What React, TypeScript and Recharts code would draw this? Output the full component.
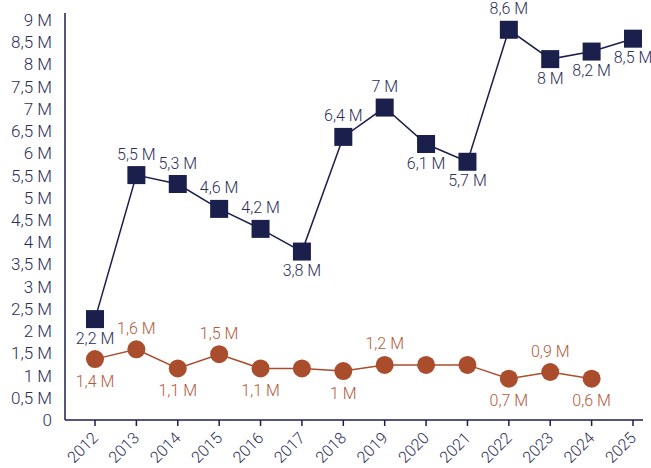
import React from 'react';
import { LineChart, Line, XAxis, YAxis, LabelList } from 'recharts';

const years = ['2012', '2013', '2014', '2015', '2016', '2017', '2018', '2019', '2020', '2021', '2022', '2023', '2024', '2025'];
const navyValues = [2.27, 5.51, 5.31, 4.75, 4.3, 3.79, 6.37, 7.03, 6.21, 5.81, 8.78, 8.12, 8.29, 8.58];
const navyLabels = ['2,2 M', '5,5 M', '5,3 M', '4,6 M', '4,2 M', '3,8 M', '6,4 M', '7 M', '6,1 M', '5,7 M', '8,6 M', '8 M', '8,2 M', '8,5 M'];
const navyPlacement = ['below', 'above', 'above', 'above', 'above', 'below', 'above', 'above', 'below', 'below', 'above', 'below', 'below', 'below'];
const orangeValues: (number | null)[] = [1.37, 1.59, 1.16, 1.48, 1.16, 1.16, 1.1, 1.24, 1.24, 1.24, 0.93, 1.08, 0.93, null];
const orangeLabels = ['1,4 M', '1,6 M', '1,1 M', '1,5 M', '1,1 M', '', '1 M', '1,2 M', '', '', '0,7 M', '0,9 M', '0,6 M', ''];
const orangePlacement = ['below', 'above', 'below', 'above', 'below', '', 'below', 'above', '', '', 'below', 'above', 'below', ''];
const yTicks = [0, 0.5, 1, 1.5, 2, 2.5, 3, 3.5, 4, 4.5, 5, 5.5, 6, 6.5, 7, 7.5, 8, 8.5, 9];

const rows = years.map((year, i) => ({
  year,
  navy: navyValues[i],
  orange: orangeValues[i],
  navyLabel: navyLabels[i],
  orangeLabel: orangeLabels[i],
}));

const NAVY = '#1b1f4c';
const ORANGE = '#a94d2d';
const NAVY_TEXT = '#2a2e58';
const ORANGE_TEXT = '#b45a3a';
const FONT = 'Roboto, sans-serif';
const WEIGHT = 300;

const fmt = (v: number) => (v === 0 ? '0' : `${String(v).replace('.', ',')} M`);

const SquareDot = (props: any) => {
  const { cx, cy } = props;
  if (cx == null || cy == null) return null;
  return <rect x={cx - 9} y={cy - 9} width={18} height={18} fill={NAVY} />;
};

const CircleDot = (props: any) => {
  const { cx, cy, value } = props;
  if (cx == null || cy == null || value == null) return null;
  return <circle cx={cx} cy={cy} r={9} fill={ORANGE} />;
};

const makeLabel = (placement: string[], color: string, above: number, below: number) => (props: any) => {
  const { x, y, value, index } = props;
  if (!value) return null;
  const p = placement[index];
  const dy = p === 'above' ? above : below;
  return (
    <text x={x} y={y + dy} textAnchor="middle" dominantBaseline="central" fill={color} fontSize={16} fontWeight={WEIGHT} fontFamily={FONT}>
      {value}
    </text>
  );
};

const XTick = (props: any) => {
  const { x, y, payload } = props;
  return (
    <g transform={`translate(${x + 4},${y + 11})`}>
      <text x={0} y={0} textAnchor="end" transform="rotate(-45)" fill={NAVY_TEXT} fontSize={16} fontWeight={WEIGHT} fontFamily={FONT}>
        {payload.value}
      </text>
    </g>
  );
};

export default function App() {
  return (
    <div style={{ position: 'fixed', left: 0, top: 0, width: 651, height: 468, background: '#fff' }}>
      <LineChart width={651} height={468} data={rows} margin={{ top: 13, right: 8, left: 0, bottom: 0 }}>
        <XAxis
          dataKey="year"
          height={48}
          padding={{ left: 30, right: 10 }}
          axisLine={{ stroke: NAVY, strokeWidth: 1.5 }}
          tickLine={{ stroke: NAVY, strokeWidth: 1.5 }}
          tickSize={6}
          tick={<XTick />}
          interval={0}
        />
        <YAxis
          width={65}
          domain={[0, 9]}
          ticks={yTicks}
          padding={{ top: 7 }}
          tickFormatter={fmt}
          axisLine={{ stroke: NAVY, strokeWidth: 1.5 }}
          tickLine={false}
          tickMargin={7}
          interval={0}
          tick={{ fill: NAVY_TEXT, fontSize: 17, fontWeight: WEIGHT, fontFamily: FONT }}
        />
        <Line
          dataKey="navy"
          stroke={NAVY}
          strokeWidth={1.5}
          dot={<SquareDot />}
          activeDot={false}
          isAnimationActive={false}
        >
          <LabelList dataKey="navyLabel" content={makeLabel(navyPlacement, NAVY_TEXT, -21, 19)} />
        </Line>
        <Line
          dataKey="orange"
          stroke={ORANGE}
          strokeWidth={1.5}
          dot={<CircleDot />}
          activeDot={false}
          isAnimationActive={false}
        >
          <LabelList dataKey="orangeLabel" content={makeLabel(orangePlacement, ORANGE_TEXT, -21, 22)} />
        </Line>
      </LineChart>
    </div>
  );
}
